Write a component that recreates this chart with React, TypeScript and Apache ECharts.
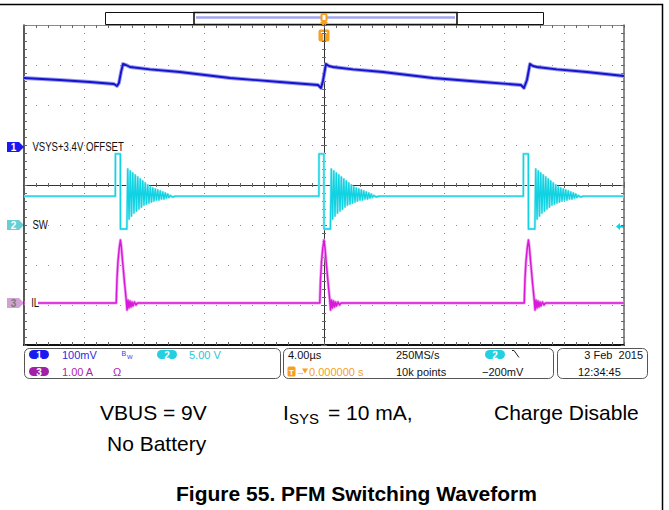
import React, { useEffect, useRef } from 'react';
import * as echarts from 'echarts';

// ---------------- scope settings ----------------
const timeWindowUs = [-20, 20]; // 10 div x 4 us/div
const timeDivUs = 4;
const screenDiv = [-4, 4]; // 8 vertical divisions

const ch1OffsetV = 3.4;
const ch1VoltsPerDiv = 0.1;
const ch1PositionDiv = 0.95;
const ch2VoltsPerDiv = 5;
const ch2PositionDiv = -1;
const ch3AmpsPerDiv = 1;
const ch3PositionDiv = -2.95;
const triggerLevelV = -0.2;

// ---------------- CH1: VSYS (V) ----------------
const vsysTimeUs = [-20, -17.6, -15.6, -14.0, -13.8, -13.67, -13.53, -13.4, -13.2, -12.93, -11.6, -9.6, -6.27, -2.93, -0.4, -0.2, -0.07, 0.13, 0.33, 0.6, 1.93, 3.93, 7.27, 10.6, 13.13, 13.33, 13.53, 13.73, 13.93, 14.2, 15.53, 17.53, 20];
const vsysVolts = [3.5725, 3.5675, 3.5625, 3.5575, 3.5525, 3.56, 3.5875, 3.6075, 3.605, 3.6, 3.594, 3.5875, 3.5725, 3.5625, 3.555, 3.5475, 3.565, 3.6075, 3.6025, 3.6, 3.594, 3.5875, 3.5725, 3.5625, 3.555, 3.5475, 3.5675, 3.6075, 3.6025, 3.6, 3.594, 3.5875, 3.5775];

// ---------------- CH2: SW (V), one switching event, time relative to falling edge ----------------
const pulseFallTimesUs = [-13.57, 0, 13.63];
const swBaselineV = 3.6;
const swShapeTimeUs = [-0.34, -0.333, -0.007, 0, 0.427, 0.487, 0.573, 0.653, 0.733, 0.82, 0.9, 0.987, 1.067, 1.153, 1.233, 1.32, 1.4, 1.487, 1.567, 1.653, 1.733, 1.82, 1.9, 1.987, 2.067, 2.153, 2.233, 2.32, 2.4, 2.487, 2.567, 2.653, 2.733, 2.82, 2.9, 2.987, 3.067, 3.153, 3.233, 3.333, 3.467, 3.667];
const swShapeVolts = [3.6, 8.9, 8.9, -0.5, -0.5, 7.0, 0.75, 6.75, 1.125, 6.5, 1.5, 6.25, 1.75, 6.0, 2.0, 5.75, 2.25, 5.5, 2.5, 5.25, 2.625, 5.0, 2.75, 4.75, 2.875, 4.625, 3.0, 4.5, 3.125, 4.375, 3.125, 4.25, 3.25, 4.125, 3.25, 4.0, 3.375, 3.875, 3.44, 3.69, 3.5, 3.6];

// ---------------- CH3: IL (A) ----------------
const ilBaselineA = 0;
const ilShapeTimeUs = [-0.28, -0.233, -0.167, -0.08, 0, 0.053, 0.147, 0.267, 0.373, 0.44, 0.5, 0.567, 0.633, 0.7, 0.767, 0.833, 0.933, 1.033, 1.133];
const ilShapeAmps = [0, 0.575, 1.025, 1.375, 1.575, 1.425, 1.025, 0.525, 0.125, -0.175, 0.075, -0.125, 0.05, -0.1, 0.025, -0.075, 0.025, -0.05, 0];

// ---------------- texts ----------------
const channelLabels = ['VSYS+3.4V OFFSET', 'SW', 'IL'];
const statusCh1 = '100mV';
const statusCh2 = '5.00 V';
const statusCh3 = '1.00 A';
const statusTimebase = '4.00\u00b5s';
const statusTrigPos = '0.000000 s';
const statusRate = '250MS/s';
const statusPoints = '10k points';
const statusTrigLevel = '\u2212200mV';
const statusDate = '3 Feb  2015';
const statusTime = '12:34:45';
const captionLine1 = ['VBUS = 9V', 'I', 'SYS', '= 10 mA,', 'Charge Disable'];
const captionLine2 = 'No Battery';
const figureTitle = 'Figure 55. PFM Switching Waveform';

const CH1 = '#1414cc';
const CH2 = '#10d2e2';
const CH3 = '#d81ad8';
const ORANGE = '#f5a01e';
const SANS = '"Liberation Sans", Arial, sans-serif';

function chRange(offset: number, perDiv: number, posDiv: number) {
  return { min: offset + (screenDiv[0] - posDiv) * perDiv, max: offset + (screenDiv[1] - posDiv) * perDiv };
}

function buildPeriodic(baseline: number, shapeT: number[], shapeV: number[]) {
  const out: number[][] = [[timeWindowUs[0], baseline]];
  pulseFallTimesUs.forEach((tf) => {
    shapeT.forEach((t, i) => out.push([tf + t, shapeV[i]]));
  });
  out.push([timeWindowUs[1], baseline]);
  return out;
}

export default function App() {
  const ref = useRef<HTMLDivElement>(null);
  useEffect(() => {
    document.body.style.margin = '0';
    const chart = echarts.init(ref.current!, undefined, { renderer: 'svg' });

    const vsysData = vsysTimeUs.map((t, i) => [t, vsysVolts[i]]);
    const swData = buildPeriodic(swBaselineV, swShapeTimeUs, swShapeVolts);
    const ilData = buildPeriodic(ilBaselineA, ilShapeTimeUs, ilShapeAmps);

    const r1 = chRange(ch1OffsetV, ch1VoltsPerDiv, ch1PositionDiv);
    const r2 = chRange(0, ch2VoltsPerDiv, ch2PositionDiv);
    const r3 = chRange(0, ch3AmpsPerDiv, ch3PositionDiv);

    const tickLine = { lineStyle: { color: '#666', width: 1 } };
    const xBase = { type: 'value', min: timeWindowUs[0], max: timeWindowUs[1], interval: timeDivUs, axisLabel: { show: false } };
    const yBase = { type: 'value', min: screenDiv[0], max: screenDiv[1], interval: 1, axisLabel: { show: false } };

    const xAxis = [
      { ...xBase, position: 'bottom', axisLine: { show: true, onZero: false, lineStyle: { color: '#111', width: 2 } },
        axisTick: { show: true, inside: true, length: 3, ...tickLine }, minorTick: { show: true, splitNumber: 5, length: 3, ...tickLine },
        splitLine: { show: true, lineStyle: { color: '#8e8e8e', width: 1, type: [1, 7] } } },
      { ...xBase, position: 'top', axisLine: { show: true, onZero: false, lineStyle: { color: '#8a8a8a', width: 1 } },
        axisTick: { show: true, inside: true, length: 3, ...tickLine }, minorTick: { show: true, splitNumber: 5, length: 3, ...tickLine },
        splitLine: { show: false } },
      { ...xBase, position: 'bottom', axisLine: { show: true, onZero: true, onZeroAxisIndex: 0, lineStyle: { color: '#333', width: 1 } },
        axisTick: { show: true, inside: true, length: 3, ...tickLine }, minorTick: { show: true, splitNumber: 5, length: 2, ...tickLine },
        splitLine: { show: false } },
      { ...xBase, position: 'top', axisLine: { show: true, onZero: true, onZeroAxisIndex: 0, lineStyle: { color: '#333', width: 1 } },
        axisTick: { show: true, inside: true, length: 3, ...tickLine }, minorTick: { show: true, splitNumber: 5, length: 2, ...tickLine },
        splitLine: { show: false } },
    ];
    const yAxis = [
      { ...yBase, position: 'left', axisLine: { show: true, onZero: false, lineStyle: { color: '#222', width: 1.5 } },
        axisTick: { show: true, inside: true, length: 3, ...tickLine }, minorTick: { show: true, splitNumber: 5, length: 3, ...tickLine },
        splitLine: { show: true, lineStyle: { color: '#8e8e8e', width: 1, type: [1, 11] } } },
      { ...yBase, position: 'right', axisLine: { show: true, onZero: false, lineStyle: { color: '#666', width: 1.5 } },
        axisTick: { show: true, inside: true, length: 3, ...tickLine }, minorTick: { show: true, splitNumber: 5, length: 3, ...tickLine },
        splitLine: { show: false } },
      { ...yBase, position: 'left', axisLine: { show: true, onZero: true, onZeroAxisIndex: 0, lineStyle: { color: '#333', width: 1 } },
        axisTick: { show: true, inside: true, length: 3, ...tickLine }, minorTick: { show: true, splitNumber: 5, length: 2, ...tickLine },
        splitLine: { show: false } },
      { ...yBase, position: 'right', axisLine: { show: true, onZero: true, onZeroAxisIndex: 0, lineStyle: { color: '#333', width: 1 } },
        axisTick: { show: true, inside: true, length: 3, ...tickLine }, minorTick: { show: true, splitNumber: 5, length: 2, ...tickLine },
        splitLine: { show: false } },
      { type: 'value', show: false, min: r1.min, max: r1.max },
      { type: 'value', show: false, min: r2.min, max: r2.max },
      { type: 'value', show: false, min: r3.min, max: r3.max },
    ];

    const trace = (name: string, data: number[][], yIdx: number, color: string, width: number, z: number) => ({
      type: 'line', name, data, xAxisIndex: 0, yAxisIndex: yIdx, showSymbol: false, symbol: 'none', z,
      lineStyle: { color, width, join: 'round' }, silent: true,
    });

    chart.setOption({
      animation: false,
      grid: { left: 24, top: 25, width: 600, height: 320 },
      xAxis, yAxis,
      series: [
        trace('VSYS halo', vsysData, 4, '#9a9af2', 3.8, 2),
        trace('VSYS', vsysData, 4, CH1, 1.9, 3),
        trace('SW halo', swData, 5, '#a6eef4', 2.6, 2),
        trace('SW', swData, 5, CH2, 1.3, 3),
        trace('IL halo', ilData, 6, '#f2a6f2', 3.0, 2),
        trace('IL', ilData, 6, CH3, 1.5, 3),
      ],
    });

    const y1 = chart.convertToPixel({ yAxisIndex: 4 }, ch1OffsetV) as number;
    const y2 = chart.convertToPixel({ yAxisIndex: 5 }, 0) as number;
    const y3 = chart.convertToPixel({ yAxisIndex: 6 }, 0) as number;
    const yTrig = chart.convertToPixel({ yAxisIndex: 5 }, triggerLevelV) as number;
    const xRight = chart.convertToPixel({ xAxisIndex: 0 }, timeWindowUs[1]) as number;
    const xCenter = chart.convertToPixel({ xAxisIndex: 0 }, 0) as number;

    const marker = (y: number, fill: string, label: string, textFill: string) => [
      { type: 'polygon', shape: { points: [[7, y - 5], [19, y - 5], [24, y], [19, y + 5], [7, y + 5]] }, style: { fill } },
      { type: 'text', x: 13.5, y: y + 0.5, style: { text: label, fill: textFill, font: `bold 10px ${SANS}`, align: 'center', verticalAlign: 'middle', textAlign: 'center', textVerticalAlign: 'middle' } },
    ];
    const txt = (x: number, y: number, text: string, fill: string, font: string, align = 'left', extra: any = {}) => ({
      type: 'text', x, y, ...extra,
      style: { text, fill, font, align, verticalAlign: 'middle', textAlign: align, textVerticalAlign: 'middle' },
    });
    const pill = (x: number, y: number, fill: string, label: string) => [
      { type: 'rect', shape: { x, y: y - 4.5, width: 20, height: 9, r: 4.5 }, style: { fill } },
      txt(x + 10, y + 0.5, label, '#fff', `bold 10px ${SANS}`, 'center'),
    ];

    const row1 = 354.5;
    const row2 = 371.5;
    const st = `11px ${SANS}`;

    const graphic: any[] = [
      // outer frame
      { type: 'polyline', shape: { points: [[0, 4.5], [662.5, 4.5], [662.5, 510]] }, style: { stroke: '#000', lineWidth: 1.5, fill: 'none' } },
      // record view bar
      { type: 'rect', shape: { x: 105.5, y: 12.5, width: 438, height: 12 }, style: { fill: '#fff', stroke: '#111', lineWidth: 1 } },
      { type: 'rect', shape: { x: 194, y: 12.5, width: 263, height: 12 }, style: { fill: 'none', stroke: '#111', lineWidth: 1.6 } },
      { type: 'line', shape: { x1: 196, y1: 17.5, x2: 455, y2: 17.5 }, style: { stroke: '#a4a4ef', lineWidth: 2.5 } },
      // trigger position markers
      { type: 'rect', shape: { x: xCenter - 3.5, y: 13, width: 7, height: 9, r: 2 }, style: { fill: ORANGE } },
      { type: 'rect', shape: { x: xCenter - 1.5, y: 15, width: 3, height: 5 }, style: { fill: '#fff' } },
      { type: 'polygon', shape: { points: [[xCenter - 4, 22], [xCenter + 4, 22], [xCenter, 27]] }, style: { fill: ORANGE } },
      { type: 'rect', shape: { x: xCenter - 5.5, y: 29.5, width: 11, height: 12, r: 2 }, style: { fill: ORANGE } },
      txt(xCenter, 36, 'T', '#fff', `bold 10px ${SANS}`, 'center'),
      // channel ground markers and labels
      ...marker(y1, '#1a1af0', '1', '#fff'),
      ...marker(y2, '#66cfd4', '2', '#fff'),
      ...marker(y3, '#d2a2d2', '3', '#7a7a7a'),
      txt(27, y1, channelLabels[0], '#111', `12px ${SANS}`, 'left', { scaleX: 0.8, originX: 27, originY: y1 }),
      txt(27, y2, channelLabels[1], '#111', `12px ${SANS}`, 'left', { scaleX: 0.8, originX: 27, originY: y2 }),
      { type: 'rect', shape: { x: 25, y: y3 - 6, width: 13, height: 12 }, style: { fill: '#fff' }, z: 10 },
      { ...txt(26, y3, channelLabels[2], '#111', `12px ${SANS}`, 'left', { scaleX: 0.8, originX: 26, originY: y3 }), z: 11 },
      // trigger level arrow (right edge)
      { type: 'polygon', shape: { points: [[xRight - 8, yTrig], [xRight - 4, yTrig - 3.5], [xRight - 4, yTrig - 1.2], [xRight, yTrig - 1.2], [xRight, yTrig + 1.2], [xRight - 4, yTrig + 1.2], [xRight - 4, yTrig + 3.5]] }, style: { fill: CH2 } },
      // status boxes
      { type: 'rect', shape: { x: 24.5, y: 348.5, width: 256, height: 30, r: 5 }, style: { fill: 'none', stroke: '#555', lineWidth: 1 } },
      { type: 'rect', shape: { x: 283.5, y: 348.5, width: 270, height: 30, r: 5 }, style: { fill: 'none', stroke: '#555', lineWidth: 1 } },
      { type: 'rect', shape: { x: 557.5, y: 348.5, width: 90, height: 30, r: 5 }, style: { fill: 'none', stroke: '#555', lineWidth: 1 } },
      ...pill(29, row1, '#1a1af0', '1'),
      txt(62, row1, statusCh1, '#2b2be6', st),
      txt(121.5, row1 - 1.5, 'B', '#3a3ae6', `7px ${SANS}`),
      txt(127, row1 + 2.5, 'W', '#3a3ae6', `6px ${SANS}`),
      ...pill(157, row1, '#22d0e0', '2'),
      txt(189, row1, statusCh2, '#22c8d8', st),
      ...pill(29, row2, '#a21fa8', '3'),
      txt(62, row2, statusCh3, '#b01cb0', st),
      txt(113, row2, '\u03a9', '#b01cb0', st),
      txt(288, row1, statusTimebase, '#111', st),
      { type: 'rect', shape: { x: 287.5, y: row2 - 5, width: 8, height: 10, r: 1.5 }, style: { fill: ORANGE } },
      txt(291.5, row2 + 0.5, 'T', '#fff', `bold 8px ${SANS}`, 'center'),
      txt(296, row2, '\u2192', ORANGE, `9px ${SANS}`),
      { type: 'polygon', shape: { points: [[302, row2 - 3], [308, row2 - 3], [305, row2 + 2]] }, style: { fill: ORANGE } },
      txt(309, row2, statusTrigPos, ORANGE, st),
      txt(396, row1, statusRate, '#111', st),
      txt(396, row2, statusPoints, '#111', st),
      ...pill(485, row1, '#22d0e0', '2'),
      { type: 'polyline', shape: { points: [[512, row1 - 4], [514, row1 - 4], [519, row1 + 3]] }, style: { stroke: '#222', lineWidth: 1, fill: 'none' } },
      txt(482, row2, statusTrigLevel, '#111', st),
      txt(643, row1, statusDate, '#111', st, 'right'),
      txt(578, row2, statusTime, '#111', st),
      // caption
      txt(100, 412, captionLine1[0], '#000', `21px ${SANS}`),
      txt(283, 412, captionLine1[1], '#000', `21px ${SANS}`),
      txt(289, 418, captionLine1[2], '#000', `15px ${SANS}`),
      txt(328, 412, captionLine1[3], '#000', `21px ${SANS}`),
      txt(494, 412, captionLine1[4], '#000', `21px ${SANS}`),
      txt(107, 443, captionLine2, '#000', `21px ${SANS}`),
      txt(356.5, 493, figureTitle, '#000', `bold 21px ${SANS}`, 'center'),
    ];
    chart.setOption({ graphic });

    return () => chart.dispose();
  }, []);
  return <div ref={ref} style={{ width: 669, height: 510, background: '#fff' }} />;
}
